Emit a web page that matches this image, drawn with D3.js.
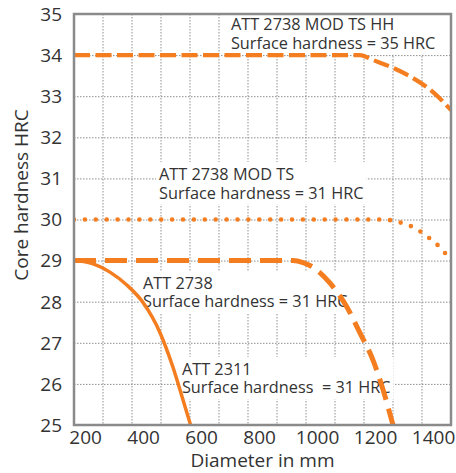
<!DOCTYPE html>
<html>
<head>
  <meta charset="utf-8">
  <title>Core hardness</title>
  <script src="https://d3js.org/d3.v7.min.js"></script>
  <style>
    body { margin: 0; background: #fff; }
    text { font-family: "Open Sans", "Noto Sans", sans-serif; fill: #333; }
  </style>
</head>
<body>
  <svg width="456" height="473"></svg>

  <script>
    // valores
    const xTicks = [200, 400, 600, 800, 1000, 1200, 1400];
    const yTicks = [25, 26, 27, 28, 29, 30, 31, 32, 33, 34, 35];
    const xGrid = [260, 360, 460, 560, 660, 760, 860, 960, 1060, 1160, 1260, 1360];

    const hhDiam = [160, 1100, 1146, 1191, 1260, 1329, 1398, 1460];
    const hhHard = [34, 34, 34, 33.88, 33.69, 33.44, 33.10, 32.66];

    const tsDiam = [160, 1190, 1232, 1270, 1308, 1343, 1377, 1408, 1436, 1460];
    const tsHard = [30, 30, 30, 29.95, 29.88, 29.76, 29.59, 29.42, 29.21, 29.04];

    const a2738Diam = [160, 880, 915, 950, 984, 1043, 1101, 1146, 1191, 1226, 1260];
    const a2738Hard = [29, 29, 29, 28.95, 28.84, 28.45, 27.87, 27.24, 26.58, 25.85, 25];

    const a2311Diam = [160, 226, 284, 343, 398, 457, 501, 536, 562];
    const a2311Hard = [29, 28.92, 28.72, 28.40, 27.98, 27.24, 26.41, 25.61, 25];

    const labelLines = [
      ["ATT 2738 MOD TS HH", "Surface hardness = 35 HRC"],
      ["ATT 2738 MOD TS", "Surface hardness = 31 HRC"],
      ["ATT 2738", "Surface hardness = 31 HRC"],
      ["ATT 2311", "Surface hardness  = 31 HRC"]
    ];
    const labelDiam = [701, 453, 398, 532];
    const labelHard = [34.61, 30.96, 28.31, 26.22];

    const svg = d3.select("svg");
    const mLeft = 74, mRight = 451, mTop = 14, mBottom = 425;
    const orange = "#f47d20";

    const x = d3.scaleLinear().domain([160, 1460]).range([mLeft, mRight]);
    const y = d3.scaleLinear().domain([25, 35]).range([mBottom, mTop]);

    svg.append("clipPath").attr("id", "plot")
      .append("rect").attr("x", mLeft).attr("y", mTop)
      .attr("width", mRight - mLeft).attr("height", mBottom - mTop);

    // rejilla
    const grid = svg.append("g")
      .attr("stroke", "#8f8f8f").attr("stroke-width", 1)
      .attr("stroke-dasharray", "1.5,1.5");
    grid.selectAll(".gx").data(xGrid).enter().append("line")
      .attr("x1", d => x(d)).attr("x2", d => x(d))
      .attr("y1", mTop).attr("y2", mBottom);
    grid.selectAll(".gy").data(yTicks.slice(1, -1)).enter().append("line")
      .attr("x1", mLeft).attr("x2", mRight)
      .attr("y1", d => y(d) + 0.5).attr("y2", d => y(d) + 0.5);

    // etiquetas con fondo blanco
    const labels = svg.append("g").attr("font-size", "16.3px");
    labelLines.forEach((lines, i) => {
      const g = labels.append("g");
      const rect = g.append("rect").attr("fill", "#fff");
      const t = g.append("text")
        .attr("x", x(labelDiam[i])).attr("y", y(labelHard[i]))
        .style("white-space", "pre");
      lines.forEach((s, j) => {
        t.append("tspan").attr("x", x(labelDiam[i]))
          .attr("dy", j === 0 ? 0 : 18.5).text(s);
      });
      const bb = t.node().getBBox();
      rect.attr("x", bb.x - 3).attr("y", bb.y - 1)
        .attr("width", bb.width + 6).attr("height", bb.height + 2);
    });

    // curvas
    const line = d3.line().curve(d3.curveMonotoneX)
      .x(d => x(d[0])).y(d => y(d[1]));
    const curves = svg.append("g").attr("clip-path", "url(#plot)")
      .attr("fill", "none").attr("stroke", orange);

    curves.append("path")
      .datum(d3.zip(a2311Diam, a2311Hard))
      .attr("stroke-width", 3.5).attr("d", line);

    curves.append("path")
      .datum(d3.zip(a2738Diam, a2738Hard))
      .attr("stroke-width", 5).attr("stroke-dasharray", "22,9")
      .attr("d", line);

    curves.append("path")
      .datum(d3.zip(tsDiam, tsHard))
      .attr("stroke-width", 4.6).attr("stroke-linecap", "round")
      .attr("stroke-dasharray", "0,10.9").attr("d", line);

    curves.append("path")
      .datum(d3.zip(hhDiam, hhHard))
      .attr("stroke-width", 4.2).attr("stroke-dasharray", "16,5.5")
      .attr("d", line);

    // marco
    svg.append("rect")
      .attr("x", mLeft).attr("y", mTop)
      .attr("width", mRight - mLeft).attr("height", mBottom - mTop)
      .attr("fill", "none").attr("stroke", "#8a8a8a").attr("stroke-width", 2.5);

    // ejes
    svg.selectAll(".xl").data(xTicks).enter().append("text")
      .attr("x", d => x(d)).attr("y", 444)
      .attr("text-anchor", "middle").attr("font-size", "19px")
      .text(d => d);

    svg.selectAll(".yl").data(yTicks).enter().append("text")
      .attr("x", 62).attr("y", d => y(d) + 6.8)
      .attr("text-anchor", "end").attr("font-size", "19px")
      .text(d => d);

    svg.append("text")
      .attr("x", (mLeft + mRight) / 2).attr("y", 467)
      .attr("text-anchor", "middle").attr("font-size", "19px")
      .text("Diameter in mm");

    svg.append("text")
      .attr("transform", "translate(28,195) rotate(-90)")
      .attr("text-anchor", "middle").attr("font-size", "19px")
      .text("Core hardness HRC");
  </script>
</body>
</html>
